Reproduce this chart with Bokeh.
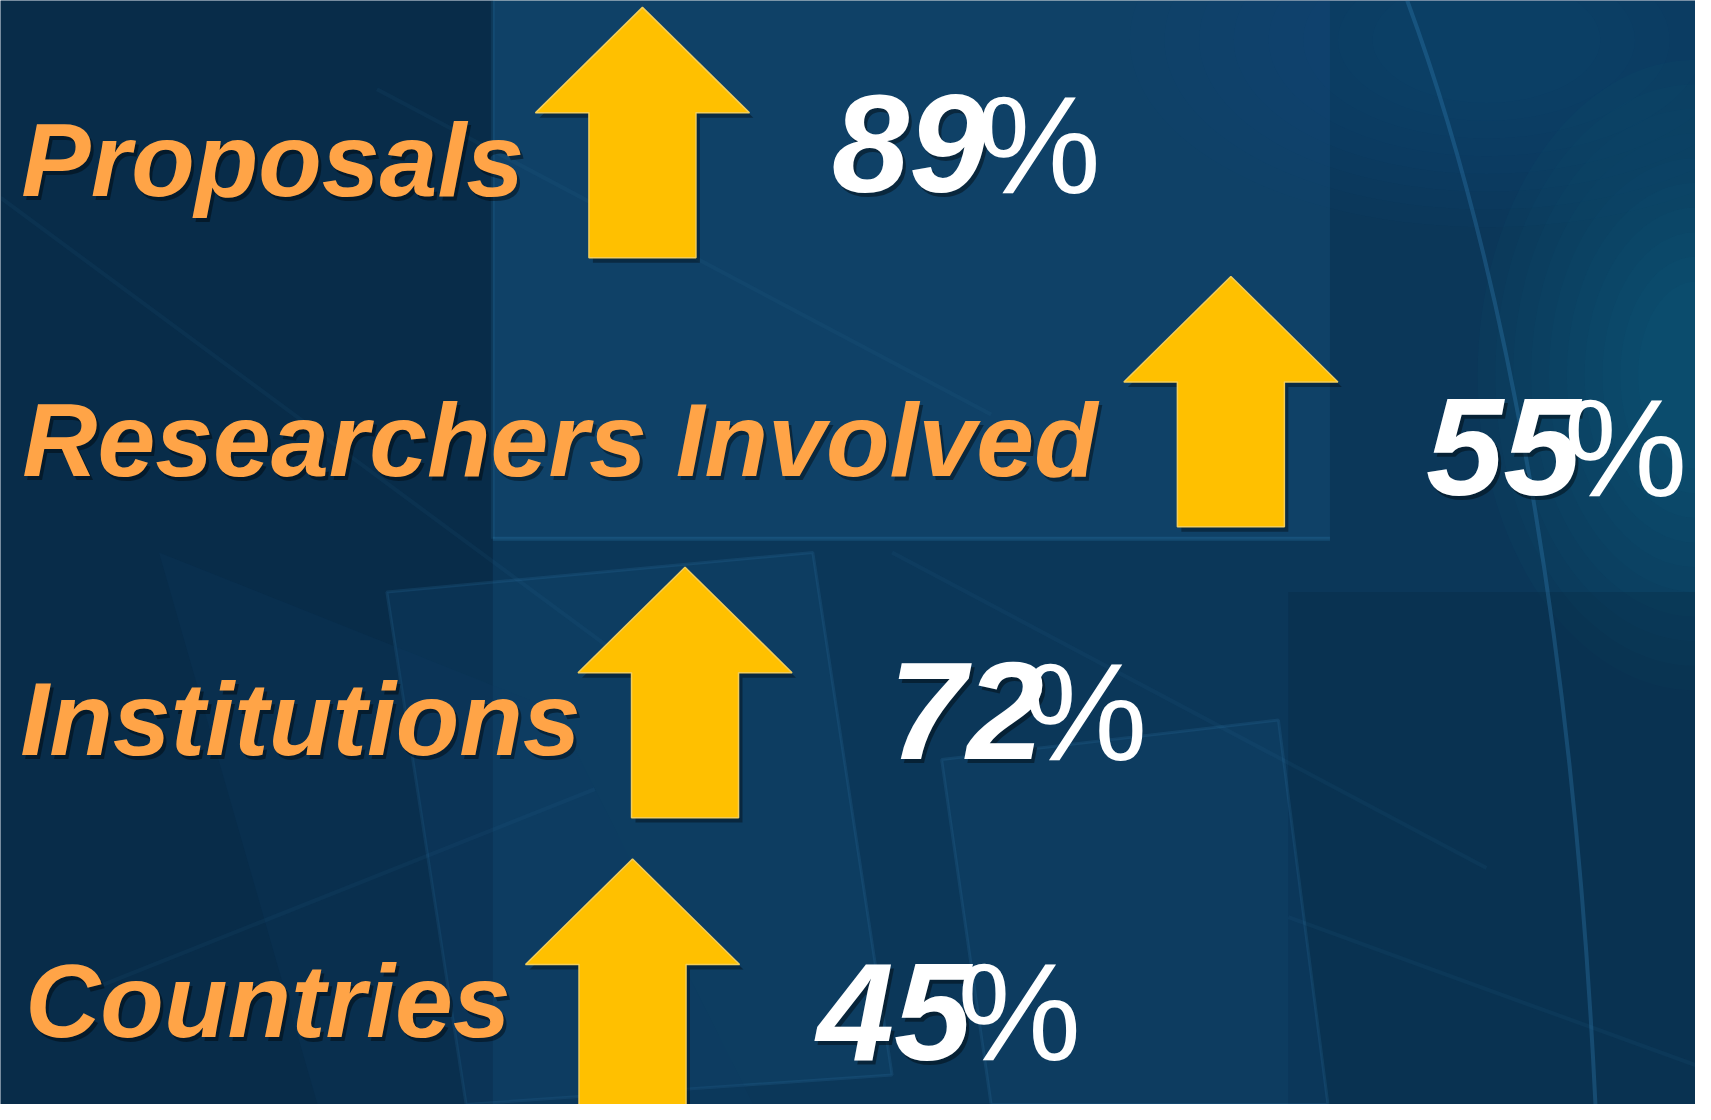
from bokeh.plotting import figure
from bokeh.models import Range1d
from bokeh.core.properties import value
from bokeh.embed import file_html
from bokeh.resources import INLINE

# ---- data ----
categories = ["Proposals", "Researchers Involved", "Institutions", "Countries"]
increase_pct = [89, 55, 72, 45]

# ---- layout (reference pixel coordinates) ----
label_x = [21, 22, 20, 25]
label_base = [200, 484, 767, 1053]
arrow_cx = [648, 1242, 691, 638]
arrow_tip = [7, 280, 575, 871]
num_x = [839, 1439, 897, 824]
num_base = [196, 503, 771, 1076]
pct_x = [986, 1578, 1033, 966]

HEAD_H, TOTAL_H, HEAD_HALF, SHAFT_HALF = 107, 254, 108, 54
LABEL_FS, NUM_FS = 104, 139
LABEL_SHIFT, NUM_SHIFT = 38, 50   # baseline correction for the text layout

W, H = 1711, 1120
p = figure(width=1695, height=1104, x_range=Range1d(0, W), y_range=Range1d(H, 0),
           output_backend="svg", toolbar_location=None, min_border=0,
           x_axis_type=None, y_axis_type=None)
p.grid.visible = False
p.outline_line_color = None
p.background_fill_color = "#0b3759"
p.border_fill_color = "#0b3759"

# ---- background texture ----
p.patch([0, 497, 497, 0], [0, 0, H, H], color="#041c33", alpha=0.40, line_color=None)
# lighter central square
p.patch([497, 1342, 1342, 497], [0, 0, 546, 546], color="#1b628f", alpha=0.26, line_color=None)
p.line([497, 1342], [546, 546], color="#2f7fb0", alpha=0.28, line_width=4)
p.line([497, 497], [0, 546], color="#2f7fb0", alpha=0.15, line_width=4)
# soft right glow (many faint layers)
for i in range(10):
    p.ellipse(x=[1711], y=[380], width=[440 - 36 * i], height=[640 - 50 * i],
              color="#2683b8", alpha=0.035, line_color=None)
for i in range(8):
    p.ellipse(x=[1500], y=[40], width=[720 - 70 * i], height=[380 - 36 * i],
              color="#1a6a9c", alpha=0.03, line_color=None)
# dark lower right
p.patch([1300, W, W, 1300], [600, 600, H, H], color="#041c33", alpha=0.20, line_color=None)
# tilted translucent panes in lower half
p.patch([390, 820, 900, 470], [600, 560, 1090, 1120], color="#1a5f8c", alpha=0.16, line_color="#3a8cc0", line_alpha=0.15, line_width=3)
p.patch([950, 1290, 1340, 1000], [770, 730, 1120, 1120], color="#175a86", alpha=0.16, line_color="#3a8cc0", line_alpha=0.15, line_width=3)
p.patch([160, 560, 760, 320], [560, 720, 1120, 1120], color="#0d3d62", alpha=0.20, line_color=None)
# faint streaks
p.multi_line(xs=[[0, 700], [380, 1000], [900, 1500], [1300, 1711], [100, 600]],
             ys=[[200, 720], [90, 420], [560, 880], [930, 1080], [1000, 800]],
             color="#4a9fd0", alpha=0.06, line_width=4)
# arc on right
p.bezier(x0=[1420], y0=[0], x1=[1610], y1=[1120], cx0=[1530], cy0=[300], cx1=[1590], cy1=[700],
         line_color="#3a8cc4", line_alpha=0.28, line_width=4)

# ---- arrows ----
def arrow(cx, tip):
    hb = tip + HEAD_H
    bot = tip + TOTAL_H
    xs = [cx, cx + HEAD_HALF, cx + SHAFT_HALF, cx + SHAFT_HALF, cx - SHAFT_HALF, cx - SHAFT_HALF, cx - HEAD_HALF]
    ys = [tip, hb, hb, bot, bot, hb, hb]
    return xs, ys

axs, ays = zip(*[arrow(c, t) for c, t in zip(arrow_cx, arrow_tip)])
p.patches([[x + 4 for x in xs] for xs in axs], [[y + 5 for y in ys] for ys in ays],
          color="#000000", alpha=0.35, line_color=None)
p.patches(list(axs), list(ays), fill_color="#FFC000", line_color="#F3CD5A", line_width=1.5)

# ---- labels ----
font = value("Liberation Sans")
ly = [b - LABEL_SHIFT for b in label_base]
p.text(x=[x + 3 for x in label_x], y=[y + 4 for y in ly], text=categories,
       text_font=font, text_font_style="bold italic", text_font_size=f"{LABEL_FS}px",
       text_color="#000000", text_alpha=0.4, text_baseline="alphabetic", text_align="left")
p.text(x=label_x, y=ly, text=categories,
       text_font=font, text_font_style="bold italic", text_font_size=f"{LABEL_FS}px",
       text_color="#FFA447", text_baseline="alphabetic", text_align="left")

nums = [str(v) for v in increase_pct]
ny = [b - NUM_SHIFT for b in num_base]
p.text(x=[x + 3 for x in num_x], y=[y + 4 for y in ny], text=nums,
       text_font=font, text_font_style="bold italic", text_font_size=f"{NUM_FS}px",
       text_color="#000000", text_alpha=0.4, text_baseline="alphabetic", text_align="left")
p.text(x=num_x, y=ny, text=nums,
       text_font=font, text_font_style="bold italic", text_font_size=f"{NUM_FS}px",
       text_color="#FFFFFF", text_baseline="alphabetic", text_align="left")
p.text(x=pct_x, y=ny, text=["%"] * len(nums),
       text_font=font, text_font_style="normal", text_font_size=f"{NUM_FS}px",
       text_color="#FFFFFF", text_baseline="alphabetic", text_align="left")

open("out.html", "w").write(file_html(p, INLINE))
